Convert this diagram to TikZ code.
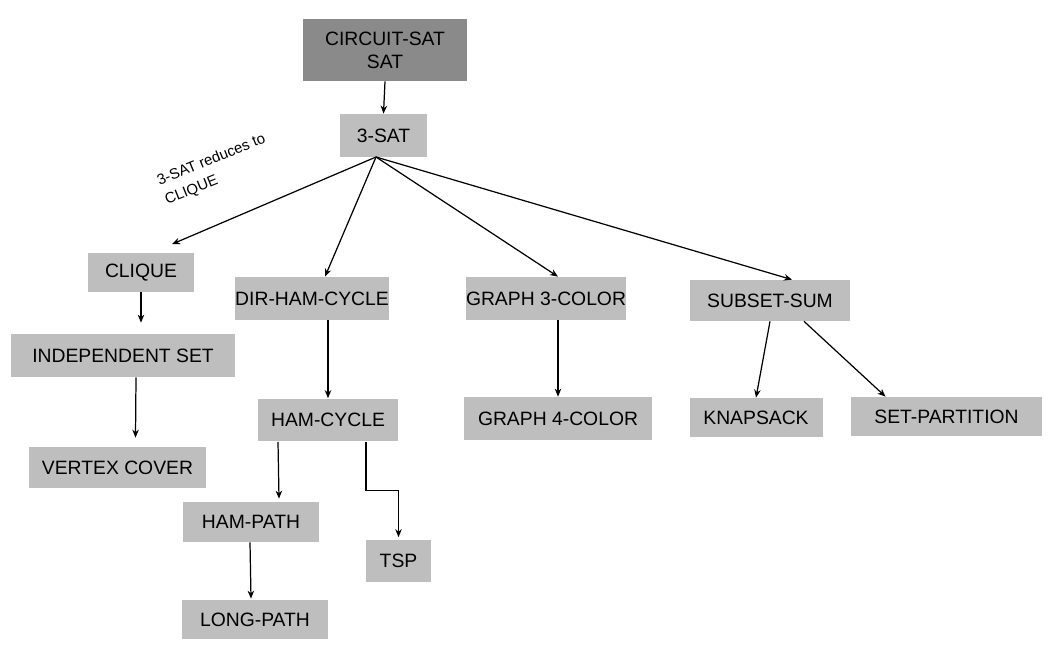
\documentclass[tikz,border=0pt]{standalone}
\usepackage{fontspec}
\setmainfont{Liberation Sans}
\usetikzlibrary{arrows.meta, positioning, calc}

\definecolor{boxgray}{RGB}{190,190,190}
\definecolor{topgray}{RGB}{138,138,138}

\begin{document}
\begin{tikzpicture}[
    x=0.02cm, y=-0.02cm, >={Stealth[length=1.6mm, width=1.3mm]},
    box/.style={fill=boxgray, inner sep=0pt, minimum height=0.84cm,
                font=\fontsize{11}{13}\selectfont, align=center},
    reduce/.style={->, line width=0.7pt}
  ]
  \useasboundingbox (0,0) rectangle (1050,651);

  % top of the tree
  \node[box, fill=topgray, minimum width=3.28cm, minimum height=1.24cm] (cs) at (385,50) {CIRCUIT-SAT\\SAT};
  \node[box, minimum width=1.74cm, minimum height=0.86cm] (threesat) at (383.5,135.5) {3-SAT};

  % second row
  \node[box, minimum width=2.12cm, minimum height=0.78cm] (clique) at (141,272.5) {CLIQUE};
  \node[box, minimum width=3.04cm, minimum height=0.86cm] (dirham) at (312,298.5) {DIR-HAM-CYCLE};
  \node[box, minimum width=3.2cm, minimum height=0.86cm] (gthree) at (546,298.5) {GRAPH 3-COLOR};
  \node[box, minimum width=3.2cm, minimum height=0.82cm] (subset) at (770,300.5) {SUBSET-SUM};

  % lower rows
  \node[box, minimum width=4.48cm, minimum height=0.86cm] (indep) at (123,355.5) {INDEPENDENT SET};
  \node[box, minimum width=3.54cm, minimum height=0.82cm] (vertex) at (117.5,467.5) {VERTEX COVER};
  \node[box, minimum width=2.8cm, minimum height=0.86cm] (hamcyc) at (328,420) {HAM-CYCLE};
  \node[box, minimum width=3.76cm, minimum height=0.86cm] (gfour) at (558,418.5) {GRAPH 4-COLOR};
  \node[box, minimum width=2.66cm, minimum height=0.78cm] (knap) at (756,417.5) {KNAPSACK};
  \node[box, minimum width=3.82cm, minimum height=0.78cm] (setpart) at (946.5,416.5) {SET-PARTITION};
  \node[box, minimum width=2.72cm, minimum height=0.8cm] (hampath) at (251,522) {HAM-PATH};
  \node[box, minimum width=1.3cm, minimum height=0.86cm] (tsp) at (398.5,561) {TSP};
  \node[box, minimum width=2.92cm, minimum height=0.78cm] (longpath) at (255,619.5) {LONG-PATH};

  \node[rotate=22, anchor=north west, inner sep=0pt, align=left,
        font=\fontsize{8.5}{12}\selectfont] (note) at (155,175) {3-SAT reduces to\\CLIQUE};

  % reductions
  \coordinate (fan) at (376,157);
  \draw[reduce] (cs.south) -- (threesat.north);
  \draw[reduce] (fan) -- ($(clique.north)+(31,-8.5)$);
  \draw[reduce] (fan) -- ($(dirham.north)+(13,0)$);
  \draw[reduce] (fan) -- ($(gthree.north)+(12,0)$);
  \draw[reduce] (fan) -- ($(subset.north)+(22,0)$);
  \draw[reduce] (clique.south) -- ($(clique.south |- indep.north)+(0,-11)$);
  \draw[reduce] ($(indep.south)+(13,0)$) -- ($(vertex.north)+(18,-9)$);
  \draw[reduce] (hamcyc.north |- dirham.south) -- (hamcyc.north);
  \draw[reduce] (gfour.north |- gthree.south) -- (gfour.north);
  \draw[reduce] (subset.south) -- (knap.north);
  \draw[reduce] ($(subset.south)+(34,0)$) -- ($(setpart.north)+(-61,0)$);
  \draw[reduce] ($(hamcyc.south)+(-50,0)$) -- ($(hampath.north)+(28,-3)$);
  \draw[reduce] ($(hamcyc.south)+(38,0)$) -- ++(0,49) -| ($(tsp.north)+(0,-2)$);
  \draw[reduce] ($(hampath.south)+(-1,0)$) -- ($(longpath.north)+(-4,-1)$);
\end{tikzpicture}
\end{document}
